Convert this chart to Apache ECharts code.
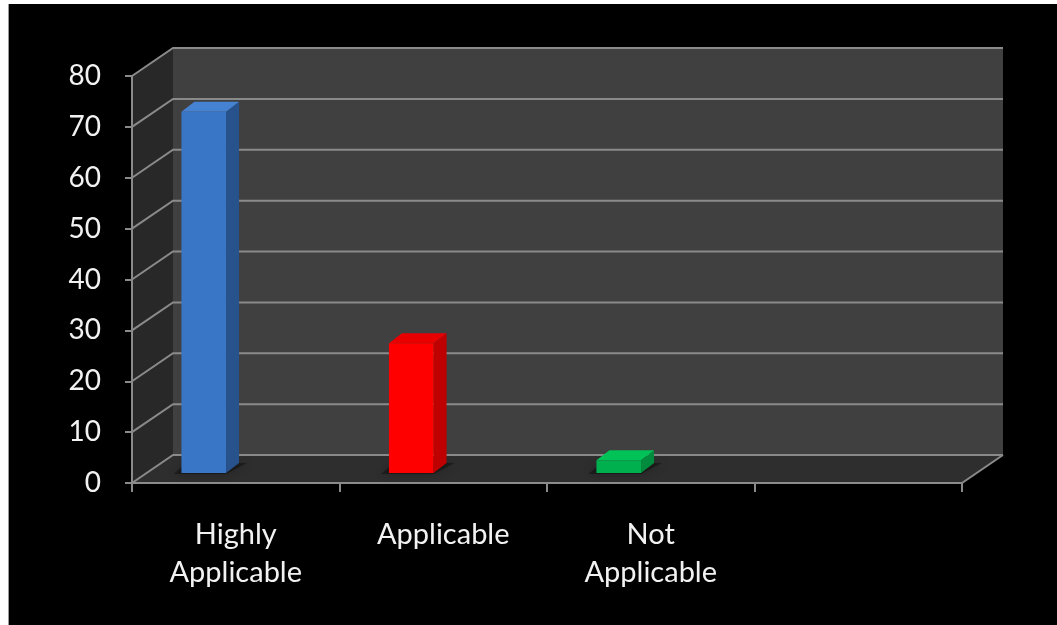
<!DOCTYPE html>
<html>
<head>
<meta charset="utf-8">
<script src="https://cdn.jsdelivr.net/npm/echarts@6/dist/echarts.min.js"></script>
<style>
  html, body { margin: 0; padding: 0; background: #ffffff; }
  #chart {
    position: absolute; left: 8px; top: 4px;
    width: 1049px; height: 621px;
    background: #000000;
    border-left: 1px solid #9a9a9a;
    box-sizing: border-box;
  }
</style>
</head>
<body>
<div id="chart"></div>
<script>
// Survey responses by applicability (percent)
const categories = ['Highly\nApplicable', 'Applicable', 'Not\nApplicable', ''];
const values = [71, 25.5, 2.5, null];
const yMin = 0, yMax = 80, yStep = 10;

// Bar face colours: [front, side, top]
const barColors = [
  ['#3a76c6', '#28528c', '#4682d2'],
  ['#ff0000', '#bf0000', '#e80000'],
  ['#00b04f', '#008c3c', '#00c257'],
  ['#888888', '#666666', '#999999']
];

// Depth of the 3-D box and of the bars inside it (pixels)
const DX = 41, DY = -28;
const BAR_DX = 13, BAR_DY = -10;
const BAR_SHIFT = -32;      // bars sit slightly left of the category centre
const BAR_PLANE = -10;      // bars stand a little behind the front edge
const GRID_COLOR = '#8a8a8a';

const chart = echarts.init(document.getElementById('chart'), null, { renderer: 'canvas' });

function renderWalls(params, api) {
  const cs = params.coordSys;
  const x0 = cs.x, x1 = cs.x + cs.width;
  const yT = cs.y, yB = cs.y + cs.height;
  const kids = [];
  // back wall
  kids.push({ type: 'polygon', shape: { points: [[x0 + DX, yT + DY], [x1 + DX, yT + DY], [x1 + DX, yB + DY], [x0 + DX, yB + DY]] },
              style: { fill: '#404040' } });
  // left side wall
  kids.push({ type: 'polygon', shape: { points: [[x0, yT], [x0 + DX, yT + DY], [x0 + DX, yB + DY], [x0, yB]] },
              style: { fill: '#282828' } });
  // floor
  kids.push({ type: 'polygon', shape: { points: [[x0, yB], [x1, yB], [x1 + DX, yB + DY], [x0 + DX, yB + DY]] },
              style: { fill: '#2e2e2e' } });
  // gridlines wrapping the side wall and back wall
  for (let v = yMin; v <= yMax; v += yStep) {
    const y = api.coord([0, v])[1];
    kids.push({ type: 'polyline', shape: { points: [[x0, y], [x0 + DX, y + DY], [x1 + DX, y + DY]] },
                style: { stroke: GRID_COLOR, lineWidth: 2, fill: null } });
  }
  // right edge of the floor
  kids.push({ type: 'line', shape: { x1: x1, y1: yB, x2: x1 + DX, y2: yB + DY },
              style: { stroke: GRID_COLOR, lineWidth: 2 } });
  return { type: 'group', children: kids };
}

function renderBar(params, api) {
  const idx = api.value(0);
  const val = api.value(1);
  if (val == null || isNaN(val)) return null;
  const top = api.coord([idx, val]);
  const base = api.coord([idx, 0]);
  const band = api.size([1, 0])[0];
  const w = band * 0.215;
  const cx = top[0] + BAR_SHIFT;
  const xl = cx - w / 2, xr = cx + w / 2;
  const yt = top[1] + BAR_PLANE, yb = base[1] + BAR_PLANE;
  const col = barColors[idx];
  return {
    type: 'group',
    children: [
      // soft shadow on the floor
      { type: 'polygon', shape: { points: [[xl - 8, yb + 1], [xr, yb + 1], [xr + BAR_DX + 8, yb + BAR_DY], [xl + BAR_DX - 8, yb + BAR_DY]] },
        style: { fill: 'rgba(0,0,0,0.35)', shadowBlur: 10, shadowColor: 'rgba(0,0,0,0.7)' } },
      // side face
      { type: 'polygon', shape: { points: [[xr, yt], [xr + BAR_DX, yt + BAR_DY], [xr + BAR_DX, yb + BAR_DY], [xr, yb]] },
        style: { fill: col[1] } },
      // top face
      { type: 'polygon', shape: { points: [[xl, yt], [xr, yt], [xr + BAR_DX, yt + BAR_DY], [xl + BAR_DX, yt + BAR_DY]] },
        style: { fill: col[2] } },
      // front face
      { type: 'rect', shape: { x: xl, y: yt, width: w, height: yb - yt },
        style: { fill: col[0] } }
    ]
  };
}

const option = {
  backgroundColor: '#000000',
  animation: false,
  grid: { left: 123, right: 95, top: 72, bottom: 142 },
  xAxis: {
    type: 'category',
    data: categories,
    boundaryGap: true,
    axisLine: { show: true, lineStyle: { color: GRID_COLOR, width: 2 } },
    axisTick: { show: true, interval: 0, length: 9, lineStyle: { color: GRID_COLOR, width: 2 } },
    axisLabel: { interval: 0, color: '#f2f2f2', fontFamily: 'Lato', fontSize: 29, lineHeight: 38, margin: 33 },
    splitLine: { show: false },
    z: 5
  },
  yAxis: {
    type: 'value',
    min: yMin, max: yMax, interval: yStep,
    axisLine: { show: true, lineStyle: { color: GRID_COLOR, width: 2 } },
    axisTick: { show: true, length: 7, lineStyle: { color: GRID_COLOR, width: 2 } },
    axisLabel: { color: '#f2f2f2', fontFamily: 'Lato', fontSize: 28, margin: 31 },
    splitLine: { show: false },
    z: 5
  },
  series: [
    {
      type: 'custom',
      renderItem: renderWalls,
      data: [[0, 0]],
      silent: true,
      z: 1
    },
    {
      type: 'custom',
      renderItem: renderBar,
      data: values.map((v, i) => [i, v]),
      encode: { x: 0, y: 1 },
      z: 3
    }
  ]
};

chart.setOption(option);
</script>
</body>
</html>
